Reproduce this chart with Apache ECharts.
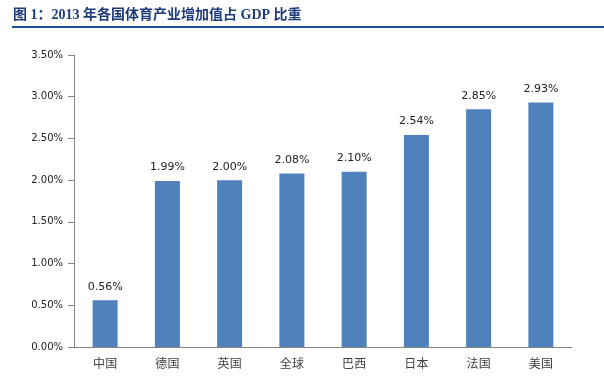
<!DOCTYPE html>
<html><head><meta charset="utf-8">
<script src="https://cdn.jsdelivr.net/npm/echarts@6/dist/echarts.min.js"></script>
<style>html,body{margin:0;padding:0;background:#fff}#c{width:604px;height:382px}</style>
</head><body><div id="c"></div>
<script>
const categories = ['中国','德国','英国','全球','巴西','日本','法国','美国'];
const values = [0.56, 1.99, 2.00, 2.08, 2.10, 2.54, 2.85, 2.93];
const yTicks = [0, 0.5, 1.0, 1.5, 2.0, 2.5, 3.0, 3.5];
const titleText = '图 1：2013 年各国体育产业增加值占 GDP 比重';

const chart = echarts.init(document.getElementById('c'), null, {renderer:'canvas'});
chart.setOption({
  animation:false,
  backgroundColor:'#fff',
  graphic:[
    {type:'text', left:13, top:8, style:{text:titleText, font:'bold 14px "Liberation Serif","Noto Sans CJK SC",serif', fill:'#1F3C7A'}},
    {type:'rect', shape:{x:12, y:26, width:592, height:2}, style:{fill:'#1F4E8C'}}
  ],
  grid:{left:74, right:32, top:55, bottom:35},
  xAxis:{type:'category', data:categories,
    axisLine:{lineStyle:{color:'#868686'}},
    axisTick:{length:5, lineStyle:{color:'#868686'}},
    axisLabel:{color:'#404040', fontSize:12, margin:10, fontFamily:'"Noto Sans CJK SC",sans-serif'}},
  yAxis:{type:'value', min:yTicks[0], max:yTicks[yTicks.length-1], interval:0.5,
    splitLine:{show:false},
    axisLine:{show:true, lineStyle:{color:'#868686'}},
    axisTick:{show:true, length:6, lineStyle:{color:'#868686'}},
    axisLabel:{color:'#222', fontSize:10, margin:11, fontFamily:'"DejaVu Sans",sans-serif',
      formatter:v=>v.toFixed(2)+'%'}},
  series:[{type:'bar', data:values, barWidth:25, itemStyle:{color:'#4F81BD'},
    label:{show:true, position:'top', distance:8, color:'#222', fontSize:11, fontFamily:'"DejaVu Sans",sans-serif',
      formatter:p=>p.value.toFixed(2)+'%'}}]
});
</script></body></html>
